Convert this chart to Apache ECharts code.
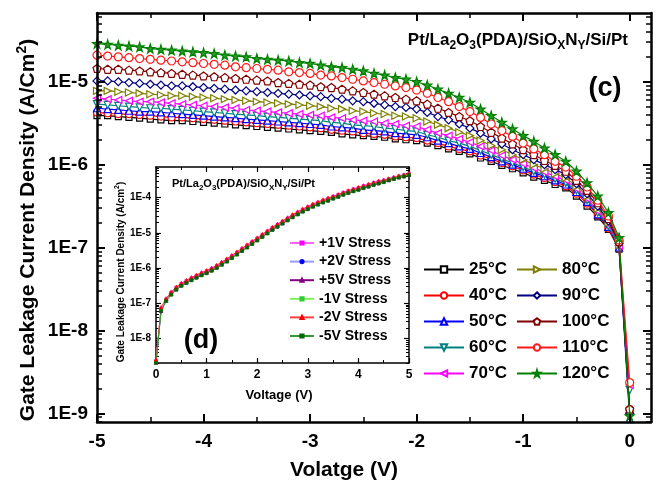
<!DOCTYPE html>
<html>
<head>
<meta charset="utf-8">
<script src="https://cdn.jsdelivr.net/npm/echarts@6/dist/echarts.min.js"></script>
<style>
  html, body { margin: 0; padding: 0; background: #fff; }
  #chart { width: 656px; height: 482px; }
</style>
</head>
<body>
<div id="chart"></div>
<script>
// main plot: gate voltage (V), one point every 0.1 V
const voltMain = [
  -5.0, -4.9, -4.8, -4.7, -4.6, -4.5, -4.4, -4.3, -4.2, -4.1,
  -4.0, -3.9, -3.8, -3.7, -3.6, -3.5, -3.4, -3.3, -3.2, -3.1,
  -3.0, -2.9, -2.8, -2.7, -2.6, -2.5, -2.4, -2.3, -2.2, -2.1,
  -2.0, -1.9, -1.8, -1.7, -1.6, -1.5, -1.4, -1.3, -1.2, -1.1,
  -1.0, -0.9, -0.8, -0.7, -0.6, -0.5, -0.4, -0.3, -0.2, -0.1,
  0.0
];
const tempNames = ['25°C', '40°C', '50°C', '60°C', '70°C', '80°C', '90°C', '100°C', '110°C', '120°C'];

// log10 of current density (A/cm2)
const logJ25 = [
  -5.41, -5.41, -5.42, -5.43, -5.44, -5.45, -5.46, -5.47, -5.47, -5.48,
  -5.49, -5.50, -5.51, -5.52, -5.53, -5.54, -5.55, -5.56, -5.57, -5.58,
  -5.59, -5.60, -5.61, -5.63, -5.64, -5.65, -5.66, -5.67, -5.69, -5.70,
  -5.71, -5.74, -5.77, -5.81, -5.84, -5.87, -5.92, -5.96, -6.01, -6.05,
  -6.10, -6.15, -6.19, -6.24, -6.28, -6.38, -6.50, -6.63, -6.78, -7.02,
  -8.97
];
const logJ40 = [
  -5.37, -5.38, -5.39, -5.39, -5.40, -5.41, -5.42, -5.43, -5.43, -5.44,
  -5.45, -5.46, -5.47, -5.48, -5.49, -5.50, -5.51, -5.52, -5.53, -5.54,
  -5.55, -5.56, -5.58, -5.59, -5.60, -5.62, -5.63, -5.64, -5.66, -5.67,
  -5.68, -5.71, -5.74, -5.78, -5.81, -5.84, -5.89, -5.93, -5.98, -6.02,
  -6.07, -6.12, -6.16, -6.21, -6.26, -6.35, -6.47, -6.61, -6.77, -7.01,
  -8.95
];
const logJ50 = [
  -5.32, -5.33, -5.34, -5.35, -5.36, -5.36, -5.37, -5.38, -5.39, -5.40,
  -5.41, -5.42, -5.43, -5.44, -5.45, -5.46, -5.47, -5.48, -5.49, -5.50,
  -5.51, -5.52, -5.54, -5.55, -5.56, -5.58, -5.59, -5.60, -5.62, -5.63,
  -5.64, -5.67, -5.71, -5.74, -5.78, -5.81, -5.86, -5.91, -5.96, -6.00,
  -6.05, -6.10, -6.14, -6.19, -6.24, -6.33, -6.45, -6.60, -6.75, -7.00,
  -9.07
];
const logJ60 = [
  -5.27, -5.28, -5.29, -5.30, -5.31, -5.32, -5.32, -5.33, -5.34, -5.35,
  -5.36, -5.37, -5.38, -5.39, -5.40, -5.41, -5.42, -5.43, -5.44, -5.45,
  -5.46, -5.47, -5.49, -5.50, -5.52, -5.53, -5.54, -5.56, -5.57, -5.59,
  -5.60, -5.64, -5.67, -5.71, -5.74, -5.78, -5.83, -5.88, -5.93, -5.98,
  -6.03, -6.08, -6.12, -6.17, -6.22, -6.31, -6.43, -6.58, -6.74, -6.99,
  -8.72
];
const logJ70 = [
  -5.20, -5.21, -5.22, -5.23, -5.24, -5.24, -5.25, -5.26, -5.27, -5.28,
  -5.29, -5.30, -5.31, -5.32, -5.34, -5.35, -5.36, -5.37, -5.38, -5.39,
  -5.40, -5.41, -5.43, -5.44, -5.46, -5.47, -5.48, -5.50, -5.51, -5.53,
  -5.54, -5.58, -5.62, -5.65, -5.69, -5.73, -5.78, -5.83, -5.89, -5.94,
  -5.99, -6.04, -6.09, -6.14, -6.19, -6.29, -6.41, -6.56, -6.72, -6.98,
  -8.66
];
const logJ80 = [
  -5.11, -5.11, -5.12, -5.13, -5.14, -5.15, -5.16, -5.17, -5.17, -5.18,
  -5.19, -5.20, -5.21, -5.22, -5.23, -5.24, -5.25, -5.26, -5.27, -5.28,
  -5.29, -5.30, -5.32, -5.33, -5.35, -5.36, -5.38, -5.39, -5.41, -5.42,
  -5.44, -5.48, -5.52, -5.56, -5.61, -5.65, -5.71, -5.77, -5.82, -5.88,
  -5.94, -6.00, -6.05, -6.11, -6.16, -6.26, -6.38, -6.53, -6.70, -6.97,
  -8.98
];
const logJ90 = [
  -4.99, -4.99, -5.00, -5.01, -5.02, -5.03, -5.04, -5.05, -5.05, -5.06,
  -5.07, -5.08, -5.09, -5.10, -5.11, -5.12, -5.13, -5.14, -5.15, -5.16,
  -5.17, -5.18, -5.20, -5.21, -5.23, -5.24, -5.26, -5.28, -5.30, -5.31,
  -5.33, -5.37, -5.42, -5.46, -5.51, -5.56, -5.62, -5.69, -5.75, -5.82,
  -5.88, -5.94, -6.00, -6.06, -6.12, -6.23, -6.35, -6.50, -6.68, -6.95,
  -9.00
];
const logJ100 = [
  -4.84, -4.85, -4.85, -4.86, -4.87, -4.88, -4.89, -4.90, -4.91, -4.92,
  -4.93, -4.94, -4.95, -4.96, -4.97, -4.98, -4.99, -5.01, -5.02, -5.03,
  -5.04, -5.06, -5.07, -5.09, -5.11, -5.13, -5.15, -5.17, -5.19, -5.21,
  -5.23, -5.27, -5.32, -5.37, -5.42, -5.47, -5.54, -5.61, -5.68, -5.75,
  -5.82, -5.88, -5.95, -6.01, -6.08, -6.19, -6.31, -6.46, -6.65, -6.93,
  -8.95
];
const logJ110 = [
  -4.68, -4.69, -4.70, -4.71, -4.72, -4.73, -4.74, -4.75, -4.76, -4.77,
  -4.78, -4.79, -4.80, -4.82, -4.83, -4.84, -4.85, -4.86, -4.88, -4.89,
  -4.90, -4.92, -4.93, -4.95, -4.97, -4.99, -5.01, -5.03, -5.05, -5.07,
  -5.10, -5.14, -5.19, -5.24, -5.30, -5.36, -5.43, -5.51, -5.59, -5.66,
  -5.74, -5.81, -5.88, -5.96, -6.03, -6.14, -6.27, -6.43, -6.62, -6.91,
  -8.63
];
const logJ120 = [
  -4.54, -4.55, -4.56, -4.57, -4.58, -4.60, -4.61, -4.62, -4.63, -4.64,
  -4.65, -4.66, -4.68, -4.69, -4.70, -4.72, -4.73, -4.74, -4.75, -4.77,
  -4.78, -4.80, -4.82, -4.83, -4.85, -4.87, -4.90, -4.92, -4.95, -4.97,
  -5.00, -5.04, -5.09, -5.14, -5.19, -5.25, -5.33, -5.41, -5.49, -5.57,
  -5.65, -5.72, -5.80, -5.88, -5.96, -6.08, -6.22, -6.38, -6.58, -6.88,
  -9.03
];

// inset (d): positive gate voltage after stress
const voltInset = [
  0.0, 0.1, 0.2, 0.3, 0.4, 0.5, 0.6, 0.7, 0.8, 0.9,
  1.0, 1.1, 1.2, 1.3, 1.4, 1.5, 1.6, 1.7, 1.8, 1.9,
  2.0, 2.1, 2.2, 2.3, 2.4, 2.5, 2.6, 2.7, 2.8, 2.9,
  3.0, 3.1, 3.2, 3.3, 3.4, 3.5, 3.6, 3.7, 3.8, 3.9,
  4.0, 4.1, 4.2, 4.3, 4.4, 4.5, 4.6, 4.7, 4.8, 4.9,
  5.0
];
const stressNames = ['+1V Stress', '+2V Stress', '+5V Stress', '-1V Stress', '-2V Stress', '-5V Stress'];
const logS_p1 = [
  -8.65, -7.15, -6.89, -6.70, -6.56, -6.45, -6.37, -6.29, -6.22, -6.15,
  -6.09, -6.02, -5.94, -5.85, -5.76, -5.66, -5.56, -5.46, -5.36, -5.26,
  -5.16, -5.06, -4.96, -4.86, -4.77, -4.68, -4.59, -4.50, -4.42, -4.34,
  -4.27, -4.20, -4.14, -4.08, -4.03, -3.97, -3.92, -3.86, -3.81, -3.76,
  -3.72, -3.67, -3.63, -3.58, -3.54, -3.51, -3.47, -3.43, -3.39, -3.36,
  -3.32
];
const logS_p2 = [
  -8.72, -7.24, -6.93, -6.75, -6.61, -6.50, -6.42, -6.34, -6.27, -6.20,
  -6.14, -6.07, -5.99, -5.90, -5.81, -5.71, -5.61, -5.51, -5.41, -5.31,
  -5.21, -5.11, -5.01, -4.91, -4.82, -4.73, -4.64, -4.55, -4.47, -4.39,
  -4.32, -4.25, -4.19, -4.13, -4.08, -4.02, -3.97, -3.91, -3.86, -3.81,
  -3.77, -3.72, -3.68, -3.63, -3.59, -3.55, -3.50, -3.46, -3.42, -3.39,
  -3.35
];
const logS_p5 = [
  -8.68, -7.21, -6.92, -6.73, -6.59, -6.48, -6.40, -6.32, -6.25, -6.18,
  -6.12, -6.05, -5.97, -5.88, -5.79, -5.69, -5.59, -5.49, -5.39, -5.29,
  -5.19, -5.09, -4.99, -4.89, -4.80, -4.71, -4.62, -4.53, -4.45, -4.37,
  -4.30, -4.23, -4.17, -4.11, -4.06, -4.00, -3.95, -3.89, -3.84, -3.79,
  -3.75, -3.70, -3.66, -3.61, -3.57, -3.53, -3.49, -3.45, -3.41, -3.38,
  -3.34
];
const logS_m1 = [
  -8.66, -7.18, -6.92, -6.74, -6.60, -6.49, -6.41, -6.33, -6.26, -6.19,
  -6.13, -6.06, -5.98, -5.89, -5.80, -5.70, -5.60, -5.50, -5.40, -5.30,
  -5.20, -5.10, -5.00, -4.90, -4.81, -4.72, -4.63, -4.54, -4.46, -4.38,
  -4.31, -4.24, -4.18, -4.12, -4.07, -4.01, -3.96, -3.90, -3.85, -3.80,
  -3.76, -3.71, -3.67, -3.62, -3.58, -3.54, -3.49, -3.45, -3.41, -3.38,
  -3.34
];
const logS_m2 = [
  -8.60, -7.12, -6.87, -6.68, -6.54, -6.43, -6.35, -6.27, -6.20, -6.13,
  -6.07, -6.00, -5.92, -5.83, -5.74, -5.64, -5.54, -5.44, -5.34, -5.24,
  -5.14, -5.04, -4.94, -4.84, -4.75, -4.66, -4.57, -4.48, -4.40, -4.32,
  -4.25, -4.18, -4.12, -4.06, -4.01, -3.96, -3.91, -3.85, -3.80, -3.75,
  -3.71, -3.66, -3.62, -3.57, -3.53, -3.50, -3.46, -3.42, -3.38, -3.35,
  -3.31
];
const logS_m5 = [
  -8.70, -7.22, -6.94, -6.76, -6.62, -6.51, -6.43, -6.35, -6.28, -6.21,
  -6.15, -6.08, -6.00, -5.91, -5.82, -5.72, -5.62, -5.52, -5.42, -5.32,
  -5.22, -5.12, -5.02, -4.92, -4.83, -4.74, -4.65, -4.56, -4.48, -4.40,
  -4.33, -4.26, -4.20, -4.14, -4.09, -4.03, -3.98, -3.92, -3.87, -3.82,
  -3.78, -3.73, -3.69, -3.64, -3.60, -3.56, -3.51, -3.47, -3.43, -3.40,
  -3.36
];

// tick values
const xTicksMain = [-5, -4, -3, -2, -1, 0];
const xMinorMain = [-4.5, -3.5, -2.5, -1.5, -0.5];
const yTicksMain = [1e-9, 1e-8, 1e-7, 1e-6, 1e-5];
const xTicksInset = [0, 1, 2, 3, 4, 5];
const xMinorInset = [0.5, 1.5, 2.5, 3.5, 4.5];
const yTicksInset = [1e-8, 1e-7, 1e-6, 1e-5, 1e-4];

const FONT = 'Liberation Sans';
const MAIN = { xMin: -5, xMax: 0.2, yMin: 7.85e-10, yMax: 6.75e-5 };
const INSET = { xMin: 0, xMax: 5, yMin: 1.99e-9, yMax: 7.46e-4 };

function logMinor(lo, hi) {
  const out = [];
  for (let e = -12; e <= -2; e++) {
    for (let m = 2; m <= 9; m++) {
      const v = m * Math.pow(10, e);
      if (v > lo && v < hi) out.push(v);
    }
  }
  return out;
}

function ax(o) {
  return {
    type: o.type, gridIndex: o.grid, position: o.pos,
    min: o.min, max: o.max, logBase: 10,
    axisLine: { show: !!o.line, onZero: false, lineStyle: { color: '#000', width: o.lw || 2 } },
    axisTick: { show: true, inside: true, length: o.len, customValues: o.ticks,
      lineStyle: { color: '#000', width: o.tw || 1.5 } },
    axisLabel: o.label ? Object.assign({ show: true, customValues: o.ticks, color: '#000',
      fontFamily: FONT, fontWeight: 'bold' }, o.label) : { show: false },
    splitLine: { show: false },
    minorTick: { show: false },
    z: 6
  };
}

const fmtLog = v => '1E' + Math.round(Math.log10(v));

const xAxes = [
  ax({ type: 'value', grid: 0, pos: 'bottom', min: MAIN.xMin, max: MAIN.xMax, line: true, lw: 2.5, len: 8, tw: 2,
       ticks: xTicksMain, label: { fontSize: 19, margin: 10 } }),
  ax({ type: 'value', grid: 0, pos: 'bottom', min: MAIN.xMin, max: MAIN.xMax, len: 5, ticks: xMinorMain }),
  ax({ type: 'value', grid: 0, pos: 'top', min: MAIN.xMin, max: MAIN.xMax, line: true, lw: 2.5, len: 8, tw: 2, ticks: xTicksMain }),
  ax({ type: 'value', grid: 0, pos: 'top', min: MAIN.xMin, max: MAIN.xMax, len: 5, ticks: xMinorMain }),
  ax({ type: 'value', grid: 1, pos: 'bottom', min: INSET.xMin, max: INSET.xMax, line: true, lw: 1.5, len: 5, tw: 1.2,
       ticks: xTicksInset, label: { fontSize: 12, margin: 6 } }),
  ax({ type: 'value', grid: 1, pos: 'bottom', min: INSET.xMin, max: INSET.xMax, len: 3, tw: 1, ticks: xMinorInset }),
  ax({ type: 'value', grid: 1, pos: 'top', min: INSET.xMin, max: INSET.xMax, line: true, lw: 1.5, len: 5, tw: 1.2, ticks: xTicksInset }),
  ax({ type: 'value', grid: 1, pos: 'top', min: INSET.xMin, max: INSET.xMax, len: 3, tw: 1, ticks: xMinorInset })
];
const yAxes = [
  ax({ type: 'log', grid: 0, pos: 'left', min: MAIN.yMin, max: MAIN.yMax, line: true, lw: 2.5, len: 8, tw: 2,
       ticks: yTicksMain, label: { fontSize: 19, margin: 9, formatter: fmtLog } }),
  ax({ type: 'log', grid: 0, pos: 'left', min: MAIN.yMin, max: MAIN.yMax, len: 5, ticks: logMinor(MAIN.yMin, MAIN.yMax) }),
  ax({ type: 'log', grid: 0, pos: 'right', min: MAIN.yMin, max: MAIN.yMax, line: true, lw: 2.5, len: 8, tw: 2, ticks: yTicksMain }),
  ax({ type: 'log', grid: 0, pos: 'right', min: MAIN.yMin, max: MAIN.yMax, len: 5, ticks: logMinor(MAIN.yMin, MAIN.yMax) }),
  ax({ type: 'log', grid: 1, pos: 'left', min: INSET.yMin, max: INSET.yMax, line: true, lw: 1.5, len: 5, tw: 1.2,
       ticks: yTicksInset, label: { fontSize: 10, margin: 5, formatter: fmtLog } }),
  ax({ type: 'log', grid: 1, pos: 'left', min: INSET.yMin, max: INSET.yMax, len: 3, tw: 1, ticks: logMinor(INSET.yMin, INSET.yMax) }),
  ax({ type: 'log', grid: 1, pos: 'right', min: INSET.yMin, max: INSET.yMax, line: true, lw: 1.5, len: 5, tw: 1.2, ticks: yTicksInset }),
  ax({ type: 'log', grid: 1, pos: 'right', min: INSET.yMin, max: INSET.yMax, len: 3, tw: 1, ticks: logMinor(INSET.yMin, INSET.yMax) })
];

const STAR = 'path://M50,0 L61,35 L98,35 L68,57 L79,91 L50,70 L21,91 L32,57 L2,35 L39,35 Z';
const PENTA = 'path://M50,0 L98,36 L80,95 L20,95 L2,36 Z';

const mainDefs = [
  { data: logJ25, color: '#000000', symbol: 'rect', size: 6, rot: 0 },
  { data: logJ40, color: '#ff0000', symbol: 'circle', size: 7, rot: 0 },
  { data: logJ50, color: '#0000ff', symbol: 'triangle', size: 7, rot: 0 },
  { data: logJ60, color: '#008080', symbol: 'triangle', size: 7, rot: 180 },
  { data: logJ70, color: '#ff00ff', symbol: 'triangle', size: 7, rot: 90 },
  { data: logJ80, color: '#808000', symbol: 'triangle', size: 7, rot: -90 },
  { data: logJ90, color: '#000080', symbol: 'diamond', size: 8, rot: 0 },
  { data: logJ100, color: '#800000', symbol: PENTA, size: 8, rot: 0 },
  { data: logJ110, color: '#ff1a1a', symbol: 'circle', size: 8, rot: 0 },
  { data: logJ120, color: '#008000', symbol: STAR, size: 9, rot: 0, fill: '#2a9a2a' }
];

const insetDefs = [
  { data: logS_p1, color: '#ff00ff', line: '#ff66ff', symbol: 'rect', size: 3 },
  { data: logS_p2, color: '#0000ff', line: '#9a9aff', symbol: 'circle', size: 3 },
  { data: logS_p5, color: '#800080', line: '#800080', symbol: 'triangle', size: 4 },
  { data: logS_m1, color: '#33cc33', line: '#80ee60', symbol: 'rect', size: 3 },
  { data: logS_m2, color: '#ff0000', line: '#ff4040', symbol: 'triangle', size: 4 },
  { data: logS_m5, color: '#006600', line: '#339933', symbol: 'rect', size: 3 }
];

const series = [];
mainDefs.forEach((d, k) => {
  series.push({
    type: 'line', name: tempNames[k], xAxisIndex: 0, yAxisIndex: 0,
    data: voltMain.map((v, i) => [v, Math.pow(10, d.data[i])]),
    symbol: d.symbol, symbolSize: d.size, symbolRotate: d.rot, showSymbol: true,
    lineStyle: { color: d.color, width: 1.2 },
    itemStyle: { color: d.fill || '#ffffff', borderColor: d.color, borderWidth: 1.2 },
    emphasis: { disabled: true }, z: 2 + k * 0.01
  });
});
insetDefs.forEach((d, k) => {
  series.push({
    type: 'line', name: stressNames[k], xAxisIndex: 4, yAxisIndex: 4,
    data: voltInset.map((v, i) => [v, Math.pow(10, d.data[i])]),
    symbol: d.symbol, symbolSize: d.size, showSymbol: true,
    lineStyle: { color: d.line, width: 1 },
    itemStyle: { color: d.color, borderColor: d.color, borderWidth: 0.5 },
    emphasis: { disabled: true }, z: 8
  });
});

function legendAt(names, left, top, o) {
  return {
    data: names, left: left, top: top, orient: 'vertical', selectedMode: false,
    itemWidth: o.w, itemHeight: o.h, itemGap: o.gap, padding: 0,
    textStyle: { color: '#000', fontFamily: FONT, fontWeight: 'bold', fontSize: o.fs, lineHeight: o.fs, padding: [0, 0, 0, 0] },
    z: 9
  };
}

const chart = echarts.init(document.getElementById('chart'), null, { renderer: 'canvas' });
chart.setOption({
  animation: false,
  backgroundColor: '#ffffff',
  grid: [
    { left: 97, top: 13, right: 5, bottom: 60, containLabel: false },
    { left: 156, top: 167, width: 253, height: 196, show: true, backgroundColor: '#ffffff', borderWidth: 0, z: 4 }
  ],
  xAxis: xAxes,
  yAxis: yAxes,
  legend: [
    legendAt(tempNames.slice(0, 5), 423, 261, { w: 40, h: 8, gap: 9, fs: 17 }),
    legendAt(tempNames.slice(5), 516, 261, { w: 40, h: 8, gap: 9, fs: 17 }),
    legendAt(stressNames, 289, 236, { w: 24, h: 4, gap: 4.6, fs: 14 })
  ],
  series: series,
  graphic: [
    { type: 'text', x: 28, y: 230, rotation: Math.PI / 2, z: 10,
      style: { text: '{n|Gate Leakage Current Density (A/Cm}{s|2}{n|)}', align: 'center', verticalAlign: 'middle',
        textAlign: 'center', textVerticalAlign: 'middle', fill: '#000',
        rich: { n: { fontFamily: FONT, fontWeight: 'bold', fontSize: 21 },
                s: { fontFamily: FONT, fontWeight: 'bold', fontSize: 14, padding: [0, 0, 12, 0] } } } },
    { type: 'text', x: 344, y: 470, z: 10,
      style: { text: 'Volatge (V)', align: 'center', verticalAlign: 'middle', textAlign: 'center', textVerticalAlign: 'middle',
        fill: '#000', font: 'bold 21px "Liberation Sans"' } },
    { type: 'text', x: 628, y: 40, z: 10,
      style: { text: '{n|Pt/La}{b|2}{n|O}{b|3}{n|(PDA)/SiO}{b|X}{n|N}{b|Y}{n|/Si/Pt}', align: 'right', verticalAlign: 'middle',
        textAlign: 'right', textVerticalAlign: 'middle', fill: '#000',
        rich: { n: { fontFamily: FONT, fontWeight: 'bold', fontSize: 17 },
                b: { fontFamily: FONT, fontWeight: 'bold', fontSize: 12, padding: [12, 0, 0, 0] } } } },
    { type: 'text', x: 605, y: 89, z: 10,
      style: { text: '(c)', align: 'center', verticalAlign: 'middle', textAlign: 'center', textVerticalAlign: 'middle',
        fill: '#000', font: 'bold 27px "Liberation Sans"' } },
    { type: 'text', x: 172, y: 184, z: 10,
      style: { text: '{n|Pt/La}{b|2}{n|O}{b|3}{n|(PDA)/SiO}{b|X}{n|N}{b|Y}{n|/Si/Pt}', align: 'left', verticalAlign: 'middle',
        textAlign: 'left', textVerticalAlign: 'middle', fill: '#000',
        rich: { n: { fontFamily: FONT, fontWeight: 'bold', fontSize: 11 },
                b: { fontFamily: FONT, fontWeight: 'bold', fontSize: 8, padding: [8, 0, 0, 0] } } } },
    { type: 'text', x: 201, y: 341, z: 10,
      style: { text: '(d)', align: 'center', verticalAlign: 'middle', textAlign: 'center', textVerticalAlign: 'middle',
        fill: '#000', font: 'bold 27px "Liberation Sans"' } },
    { type: 'text', x: 279, y: 395, z: 10,
      style: { text: 'Voltage (V)', align: 'center', verticalAlign: 'middle', textAlign: 'center', textVerticalAlign: 'middle',
        fill: '#000', font: 'bold 13px "Liberation Sans"' } },
    { type: 'text', x: 121, y: 272, rotation: Math.PI / 2, z: 10,
      style: { text: '{n|Gate Leakage Current Density (A/cm}{s|2}{n|)}', align: 'center', verticalAlign: 'middle',
        textAlign: 'center', textVerticalAlign: 'middle', fill: '#000',
        rich: { n: { fontFamily: FONT, fontWeight: 'bold', fontSize: 10 },
                s: { fontFamily: FONT, fontWeight: 'bold', fontSize: 7, padding: [0, 0, 7, 0] } } } }
  ]
});
</script>
</body>
</html>
